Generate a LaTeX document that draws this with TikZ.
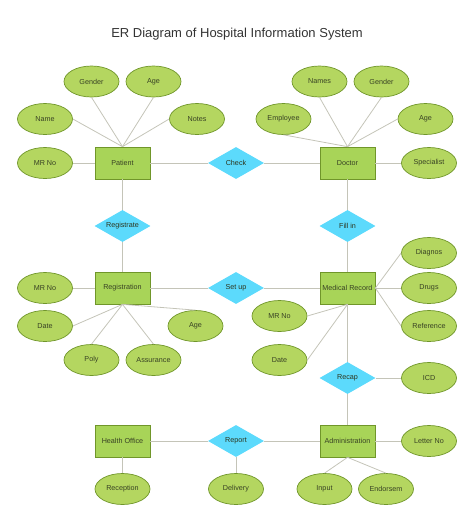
\documentclass[tikz,border=0pt]{standalone}
\usepackage{fontspec}
\setmainfont{Liberation Sans}
\usetikzlibrary{shapes.geometric}
\definecolor{at1}{RGB}{180,214,96}
\definecolor{at2}{RGB}{112,150,42}
\definecolor{en1}{RGB}{168,212,88}
\definecolor{rl1}{RGB}{92,218,252}
\definecolor{l1}{RGB}{196,196,184}
\definecolor{t1}{RGB}{56,66,36}

\begin{document}
\begin{tikzpicture}[
    x=1pt, y=-1pt,
    font=\fontsize{7.2}{8}\selectfont,
    l/.style={
        line width=0.8pt,
        color=l1
    },
    en/.style={
        rectangle, fill=en1, draw=at2, line width=0.7pt,
        minimum width=55pt, minimum height=32pt, inner sep=0pt, text=t1
    },
    attr/.style={
        ellipse, fill=at1, draw=at2, line width=0.7pt,
        minimum width=55pt, minimum height=31pt, inner sep=0pt, text=t1
    },
    rl/.style={
        diamond, aspect=1.75, fill=rl1, draw=none,
        minimum width=56pt, minimum height=32pt, inner sep=0pt, text=t1!80!black
    }
]

    \useasboundingbox (0,0) rectangle (474,523);
    \node [text=black!80, font=\fontsize{13}{15}\selectfont] (title) at (237,34) {ER Diagram of Hospital Information System};

    % entities
    \node [en] (patient) at (122.5,163) {Patient};
    \node [en] (doctor)  at (347.5,163) {Doctor};
    \node [en] (regist)  at (122.5,288) {Registration};
    \node [en] (medrec)  at (347.5,288) {Medical Record};
    \node [en] (health)  at (122.5,441) {Health Office};
    \node [en] (admin)   at (347.5,441) {Administration};

    % relations
    \node [rl] (check)  at (236,163)   {Check};
    \node [rl] (regrel) at (122.5,226) {Registrate};
    \node [rl] (fillin) at (347.5,226) {Fill in};
    \node [rl] (setup)  at (236,288)   {Set up};
    \node [rl] (recap)  at (347.5,378) {Recap};
    \node [rl] (report) at (236,441)   {Report};

    % attributes
    \node [attr] (pgender) at (91.5,81.5)  {Gender};
    \node [attr] (page)    at (153.5,81.5) {Age};
    \node [attr] (pname)   at (45,119)     {Name};
    \node [attr] (pnotes)  at (197,119)    {Notes};
    \node [attr] (pmrno)   at (45,163)     {MR No};
    \node [attr] (dnames)  at (319.5,81.5) {Names};
    \node [attr] (dgender) at (381.5,81.5) {Gender};
    \node [attr] (demploy) at (283.5,119)  {Employee};
    \node [attr] (dage)    at (425.5,119)  {Age};
    \node [attr] (dspec)   at (429,163)    {Specialist};
    \node [attr] (rmrno)   at (45,288)     {MR No};
    \node [attr] (rdate)   at (45,326)     {Date};
    \node [attr] (rage)    at (195.5,326)  {Age};
    \node [attr] (rpoly)   at (91.5,360)   {Poly};
    \node [attr] (rassur)  at (153.5,360)  {Assurance};
    \node [attr] (mdiag)   at (429,253)    {Diagnos};
    \node [attr] (mdrugs)  at (429,288)    {Drugs};
    \node [attr] (mref)    at (429,326)    {Reference};
    \node [attr] (mmrno)   at (279.5,316)  {MR No};
    \node [attr] (mdate)   at (279.5,360)  {Date};
    \node [attr] (icd)     at (429,378)    {ICD};
    \node [attr] (letter)  at (429,441)    {Letter No};
    \node [attr] (input)   at (324.5,489)  {Input};
    \node [attr] (endors)  at (386,489)    {Endorsem};
    \node [attr] (recept)  at (122.5,489)  {Reception};
    \node [attr] (deliv)   at (236,489)    {Delivery};

    % relation lines
    \draw (patient) edge [l] (check);
    \draw (check)   edge [l] (doctor);
    \draw (patient) edge [l] (regrel);
    \draw (regrel)  edge [l] (regist);
    \draw (doctor)  edge [l] (fillin);
    \draw (fillin)  edge [l] (medrec);
    \draw (regist)  edge [l] (setup);
    \draw (setup)   edge [l] (medrec);
    \draw (medrec)  edge [l] (recap);
    \draw (recap)   edge [l] (admin);
    \draw (health)  edge [l] (report);
    \draw (report)  edge [l] (admin);

    % attribute lines
    \draw (patient.north) edge [l] (pgender.south);
    \draw (patient.north) edge [l] (page.south);
    \draw (patient.north) edge [l] (pname.east);
    \draw (patient.north) edge [l] (pnotes.west);
    \draw (patient)       edge [l] (pmrno);
    \draw (doctor.north)  edge [l] (dnames.south);
    \draw (doctor.north)  edge [l] (dgender.south);
    \draw (doctor.north)  edge [l] (demploy.south);
    \draw (doctor.north)  edge [l] (dage.west);
    \draw (doctor)        edge [l] (dspec);
    \draw (regist)        edge [l] (rmrno);
    \draw (regist.south)  edge [l] (rdate.east);
    \draw (regist.south)  edge [l] (rage.north);
    \draw (regist.south)  edge [l] (rpoly.north);
    \draw (regist.south)  edge [l] (rassur.north);
    \draw (medrec.east)   edge [l] (mdiag.west);
    \draw (medrec.east)   edge [l] (mdrugs.west);
    \draw (medrec.east)   edge [l] (mref.west);
    \draw (medrec.south)  edge [l] (mmrno.east);
    \draw (medrec.south)  edge [l] (mdate.east);
    \draw (recap)         edge [l] (icd);
    \draw (admin)         edge [l] (letter);
    \draw (admin.south)   edge [l] (input.north);
    \draw (admin.south)   edge [l] (endors.north);
    \draw (health)        edge [l] (recept);
    \draw (report)        edge [l] (deliv);

\end{tikzpicture}
\end{document}
